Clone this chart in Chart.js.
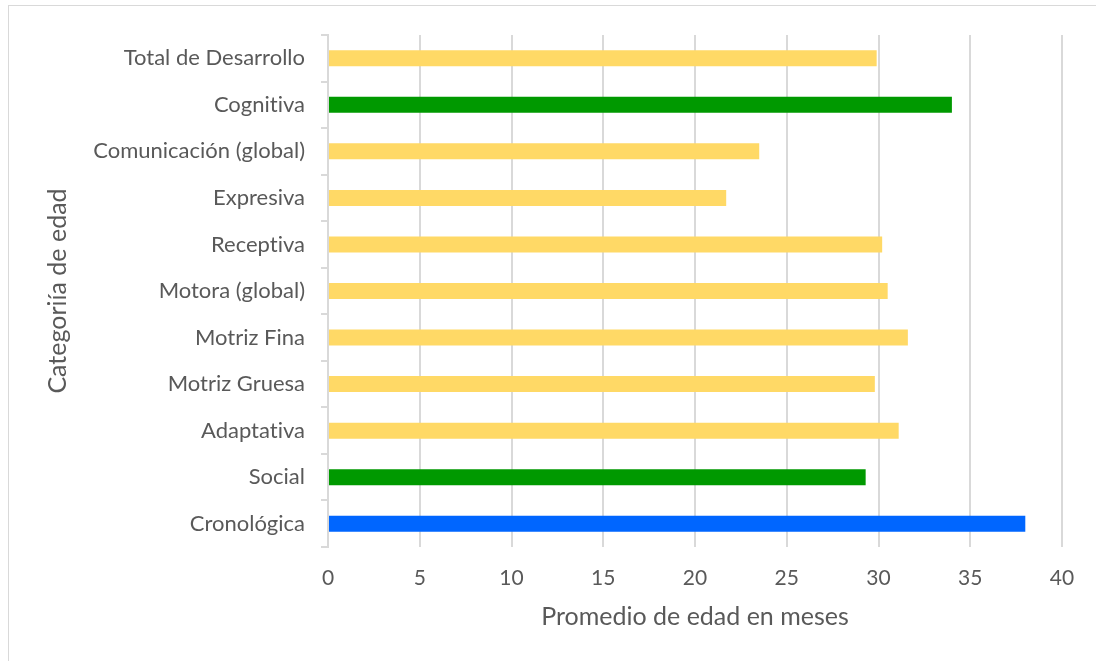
<!DOCTYPE html>
<html>
<head>
<meta charset="utf-8">
<script src="https://cdn.jsdelivr.net/npm/chart.js@4/dist/chart.umd.min.js"></script>
<style>
  html, body { margin: 0; padding: 0; background: #fff; }
  #wrap { position: relative; width: 1096px; height: 661px; overflow: hidden; }
  #frame { position: absolute; left: 8px; top: 5px; width: 1100px; height: 670px; border: 1px solid #d9d9d9; box-sizing: border-box; }
  canvas { position: absolute; left: 0; top: 0; }
</style>
</head>
<body>
<div id="wrap">
  <div id="frame"></div>
  <canvas id="edadChart" width="1096" height="661"></canvas>
</div>
<script>
// categorías de edad (de arriba hacia abajo)
const categorias = [
  'Total de Desarrollo',
  'Cognitiva',
  'Comunicación (global)',
  'Expresiva',
  'Receptiva',
  'Motora (global)',
  'Motriz Fina',
  'Motriz Gruesa',
  'Adaptativa',
  'Social',
  'Cronológica'
];
// promedio de edad en meses
const promedios = [29.9, 34.0, 23.5, 21.7, 30.2, 30.5, 31.6, 29.8, 31.1, 29.3, 38.0];
const colores = ['#FFD966', '#009900', '#FFD966', '#FFD966', '#FFD966', '#FFD966',
  '#FFD966', '#FFD966', '#FFD966', '#009900', '#0066FF'];
const ticksX = [0, 5, 10, 15, 20, 25, 30, 35, 40];

const fuente = "Lato, 'Open Sans', sans-serif";
const gris = '#595959';

// sin ligaduras (Lato junta "ti")
const sinLigaduras = {
  id: 'sinLigaduras',
  beforeDraw: (chart) => { chart.ctx.textRendering = 'optimizeSpeed'; }
};

new Chart(document.getElementById('edadChart'), {
  type: 'bar',
  data: {
    labels: categorias,
    datasets: [{
      data: promedios,
      backgroundColor: colores,
      borderWidth: 0,
      barPercentage: 0.86,
      categoryPercentage: 0.4
    }]
  },
  plugins: [sinLigaduras],
  options: {
    indexAxis: 'y',
    responsive: false,
    animation: false,
    layout: { padding: { left: 0, top: 35, right: 34, bottom: 0 } },
    plugins: { legend: { display: false }, tooltip: { enabled: false } },
    scales: {
      x: {
        min: ticksX[0],
        max: ticksX[ticksX.length - 1],
        afterBuildTicks: (s) => { s.ticks = ticksX.map(v => ({ value: v })); },
        afterFit: (s) => { s.height = 114; },
        grid: { color: '#d9d9d9', lineWidth: 2, drawTicks: false },
        border: { display: false },
        ticks: { color: gris, padding: 19, font: { family: fuente, size: 21 } },
        title: {
          display: true,
          text: 'Promedio de edad en meses',
          color: gris,
          font: { family: fuente, size: 25 },
          padding: { top: 0, bottom: 29 }
        }
      },
      y: {
        afterFit: (s) => { s.width = 328; },
        grid: { color: '#d9d9d9', lineWidth: 2, drawOnChartArea: false, tickLength: 7, offset: true },
        border: { display: true, color: '#d9d9d9', width: 2 },
        ticks: { color: gris, padding: 16, font: { family: fuente, size: 22 } },
        title: {
          display: true,
          text: 'Categoriía de edad',
          color: gris,
          font: { family: fuente, size: 25 },
          padding: { top: 43, bottom: 0 }
        }
      }
    }
  }
});
</script>
</body>
</html>
